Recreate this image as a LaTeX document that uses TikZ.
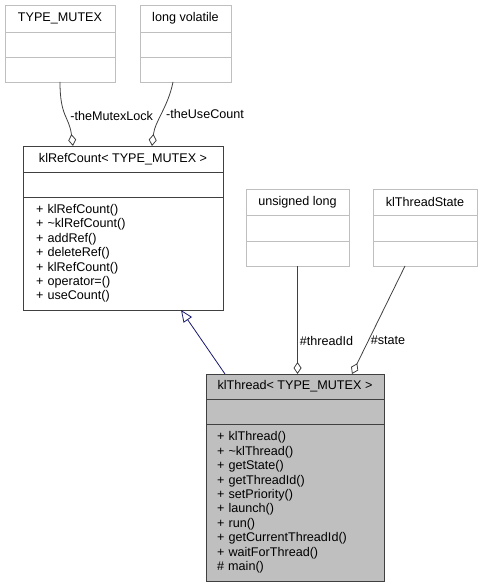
\documentclass[tikz,border=0pt]{standalone}
\usepackage{fontspec}
\setmainfont{Liberation Sans}
\usetikzlibrary{positioning, arrows.meta, calc}

\definecolor{edgegray}{HTML}{404040}
\definecolor{lightbox}{HTML}{BFBFBF}
\definecolor{inhblue}{HTML}{191970}

\begin{document}
\begin{tikzpicture}[
        x=1pt, y=-1pt,
        font=\fontsize{12.6}{14.4}\selectfont,
        cls/.style={draw=edgegray, line width=0.8pt, inner sep=0pt, outer sep=0pt, minimum width=#1},
        ext/.style={draw=lightbox, line width=0.8pt, inner sep=0pt, outer sep=0pt, minimum width=#1},
        members/.style={align=left, inner xsep=#1, inner ysep=0pt},
        aggr/.style={-{Diamond[open, length=12pt, width=8pt]}, draw=edgegray, line width=0.8pt},
        inh/.style={-{Triangle[open, length=12pt, width=10pt]}, draw=inhblue, line width=0.8pt},
        lbl/.style={right, inner sep=2pt},
    ]
    \useasboundingbox (0,0) rectangle (481,588);

    % External types (top)
    \node[ext=110pt, minimum height=27pt, anchor=north west] (mutexH) at (5,5) {TYPE\_MUTEX};
    \node[ext=110pt, minimum height=25pt, below=0pt of mutexH] (mutexA) {};
    \node[ext=110pt, minimum height=25pt, below=0pt of mutexA] (mutexM) {};

    \node[ext=91pt, minimum height=27pt, anchor=north west] (volH) at (140,5) {long volatile};
    \node[ext=91pt, minimum height=25pt, below=0pt of volH] (volA) {};
    \node[ext=91pt, minimum height=25pt, below=0pt of volA] (volM) {};

    % Base class
    \node[cls=200pt, minimum height=26pt, anchor=north west] (refH) at (23,146) {klRefCount< TYPE\_MUTEX >};
    \node[cls=200pt, minimum height=25pt, below=0pt of refH] (refA) {};
    \node[cls=200pt, minimum height=113pt, below=0pt of refA, members=13pt, text width=174pt] (refM)
        {+ klRefCount()\\+ \textasciitilde klRefCount()\\+ addRef()\\+ deleteRef()\\+ klRefCount()\\+ operator=()\\+ useCount()};

    % External types (middle)
    \node[ext=103pt, minimum height=26pt, anchor=north west] (ulongH) at (246,189) {unsigned long};
    \node[ext=103pt, minimum height=26pt, below=0pt of ulongH] (ulongA) {};
    \node[ext=103pt, minimum height=25pt, below=0pt of ulongA] (ulongM) {};

    \node[ext=104pt, minimum height=26pt, anchor=north west] (stateH) at (373,189) {klThreadState};
    \node[ext=104pt, minimum height=26pt, below=0pt of stateH] (stateA) {};
    \node[ext=104pt, minimum height=25pt, below=0pt of stateA] (stateM) {};

    % Derived class
    \node[cls=178pt, fill=lightbox, minimum height=25pt, anchor=north west] (threadH) at (206,374) {klThread< TYPE\_MUTEX >};
    \node[cls=178pt, fill=lightbox, minimum height=25pt, below=0pt of threadH] (threadA) {};
    \node[cls=178pt, fill=lightbox, minimum height=157pt, below=0pt of threadA, members=11pt, text width=156pt] (threadM)
        {+ klThread()\\+ \textasciitilde klThread()\\+ getState()\\+ getThreadId()\\+ setPriority()\\+ launch()\\+ run()\\+ getCurrentThreadId()\\+ waitForThread()\\\# main()};

    % Connector ends
    \coordinate (lockEnd) at ($(refH.north west)+(50,0)$);
    \coordinate (countStart) at ($(volM.south west)+(33,0)$);
    \coordinate (countEnd) at ($(refH.north west)+(129,0)$);
    \coordinate (idEnd) at (ulongM.south |- threadH.north);
    \coordinate (stateStart) at ($(stateM.south west)+(32,0)$);
    \coordinate (stateEnd) at ($(threadH.north west)+(146,0)$);
    \coordinate (inhStart) at ($(threadH.north west)+(19,0)$);
    \coordinate (inhEnd) at ($(refM.south west)+(158,0)$);

    % Arrows
    \draw[aggr] (mutexM.south) .. controls +(0,35) and +(-4,-30) .. (lockEnd) node[pos=0.5, lbl, xshift=3pt] {-theMutexLock};
    \draw[aggr] (countStart) .. controls +(-5,25) and +(3,-25) .. (countEnd) node[pos=0.5, lbl, xshift=2pt] {-theUseCount};
    \draw[aggr] (ulongM.south) -- (idEnd) node[pos=0.69, lbl] {\#threadId};
    \draw[aggr] (stateStart) -- (stateEnd) node[pos=0.69, lbl] {\#state};
    \draw[inh] (inhStart) -- (inhEnd);
\end{tikzpicture}
\end{document}
